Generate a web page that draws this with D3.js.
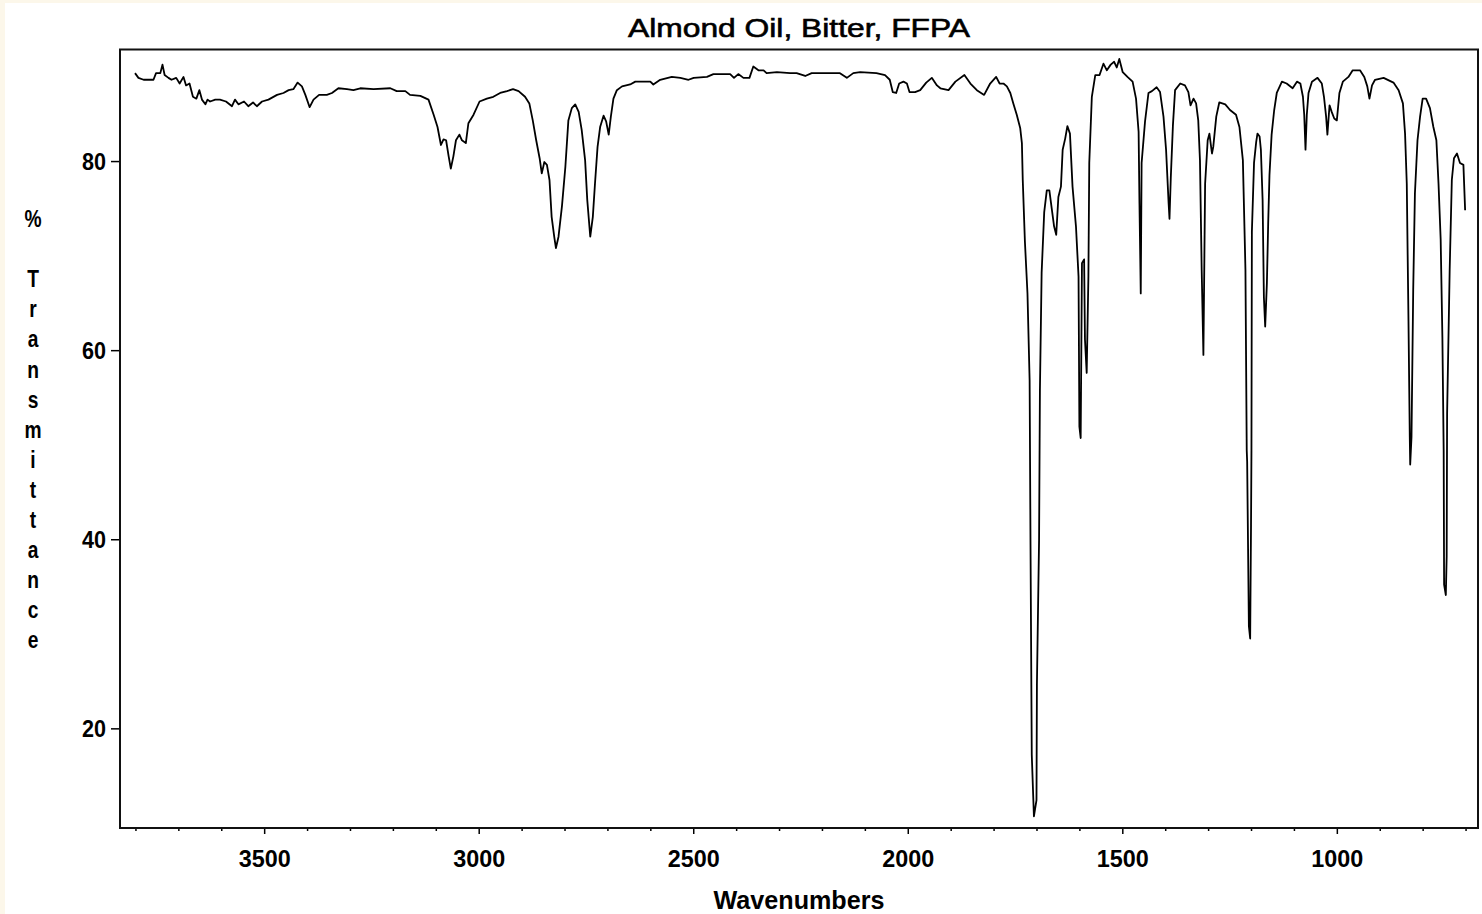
<!DOCTYPE html>
<html>
<head>
<meta charset="utf-8">
<script src="https://cdn.jsdelivr.net/npm/d3@7"></script>
<style>
    body { margin: 0; background: #fcf7ea; }
    svg { display: block; }
</style>
</head>
<body>
<div id="container"><svg></svg></div>
<script>
let width = 1482;
let height = 914;
let fontFamily = '"Liberation Sans", Arial, sans-serif';

let title = 'Almond Oil, Bitter, FFPA';
let x_label = 'Wavenumbers';
let y_label = ['%', '', 'T', 'r', 'a', 'n', 's', 'm', 'i', 't', 't', 'a', 'n', 'c', 'e'];

let x_ticks = [3500, 3000, 2500, 2000, 1500, 1000];
let y_ticks = [20, 40, 60, 80];

// spectrum: wavenumber (cm-1) and % transmittance
let wavenumber = [
    3801, 3793, 3781, 3758, 3752, 3742, 3737, 3732, 3723, 3716, 3705, 3697, 3688, 3682, 3674, 3666,
    3658, 3651, 3645, 3637, 3632, 3626, 3614, 3603, 3589, 3575, 3568, 3560, 3547, 3537, 3526, 3517,
    3505, 3490, 3470, 3455, 3443, 3432, 3422, 3412, 3404, 3394, 3385, 3372, 3354, 3342, 3327, 3307,
    3292, 3276, 3245, 3206, 3191, 3171, 3160, 3136, 3117, 3105, 3096, 3088, 3082, 3076, 3070, 3065,
    3059, 3053, 3045, 3039, 3030, 3024, 3012, 2998, 2981, 2966, 2950, 2934, 2920, 2907, 2892, 2882,
    2874, 2866, 2858, 2853, 2847, 2841, 2835, 2830, 2824, 2820, 2814, 2806, 2798, 2791, 2783, 2775,
    2767, 2760, 2752, 2747, 2740, 2734, 2729, 2723, 2717, 2709, 2703, 2697, 2692, 2686, 2678, 2666,
    2647, 2635, 2600, 2593, 2577, 2550, 2530, 2511, 2499, 2468, 2453, 2414, 2405, 2395, 2383, 2369,
    2360, 2348, 2336, 2329, 2305, 2274, 2259, 2239, 2224, 2158, 2142, 2127, 2111, 2073, 2053, 2042,
    2035, 2027, 2020, 2010, 2002, 1996, 1983, 1971, 1957, 1944, 1932, 1924, 1905, 1889, 1868, 1854,
    1839, 1822, 1808, 1794, 1786, 1777, 1769, 1761, 1754, 1746, 1738, 1734, 1732, 1727, 1721, 1716,
    1714, 1711, 1706, 1700, 1699, 1694, 1692, 1688, 1682, 1676, 1670, 1664, 1659, 1654, 1649, 1643,
    1639, 1633, 1628, 1622, 1616, 1608, 1602, 1600, 1597, 1594, 1589, 1587, 1583, 1579, 1577, 1571,
    1563, 1553, 1544, 1536, 1527, 1519, 1513, 1507, 1499, 1488, 1476, 1468, 1462, 1460, 1457, 1455,
    1447, 1439, 1431, 1420, 1412, 1404, 1398, 1392, 1390, 1387, 1382, 1377, 1365, 1354, 1346, 1341,
    1334, 1328, 1323, 1319, 1315, 1311, 1307, 1301, 1297, 1291, 1288, 1281, 1274, 1260, 1249, 1235,
    1227, 1219, 1213, 1210, 1209, 1205, 1202, 1200, 1199, 1198, 1193, 1188, 1185, 1180, 1177, 1173,
    1170, 1167, 1163, 1160, 1157, 1152, 1146, 1140, 1128, 1117, 1103, 1093, 1085, 1079, 1076, 1073,
    1070, 1066, 1058, 1045, 1035, 1030, 1025, 1022, 1017, 1012, 1006, 1000, 994, 986, 973, 963,
    946, 936, 929, 924, 918, 911, 891, 868, 856, 846, 841, 837, 833, 830, 829, 826,
    822, 818, 812, 806, 800, 792, 783, 775, 768, 763, 758, 754, 751, 750, 746, 744,
    743, 737, 732, 727, 720, 713, 705, 701
];
let transmittance = [
    89.3, 88.8, 88.6, 88.6, 89.3, 89.3, 90.2, 89.1, 88.8, 88.6, 88.8, 88.2, 88.9, 88.0, 88.2, 86.8,
    86.6, 87.5, 86.5, 86.0, 86.5, 86.3, 86.5, 86.5, 86.3, 85.8, 86.5, 86.0, 86.3, 85.8, 86.2, 85.8,
    86.3, 86.5, 87.0, 87.2, 87.5, 87.6, 88.3, 87.9, 87.0, 85.7, 86.5, 87.0, 87.0, 87.2, 87.7, 87.6,
    87.5, 87.7, 87.6, 87.7, 87.4, 87.4, 87.0, 86.9, 86.5, 84.9, 83.6, 81.7, 82.3, 82.2, 80.5, 79.2,
    80.5, 82.2, 82.8, 82.2, 81.9, 84.0, 84.9, 86.3, 86.6, 86.8, 87.2, 87.4, 87.6, 87.4, 86.8, 86.1,
    84.3, 82.2, 80.3, 78.7, 79.9, 79.6, 78.0, 74.1, 72.0, 70.8, 72.0, 75.2, 79.4, 84.3, 85.6, 86.0,
    85.2, 83.3, 80.1, 75.9, 72.0, 74.1, 77.6, 81.5, 83.6, 84.8, 84.2, 82.8, 84.7, 86.6, 87.5, 87.9,
    88.1, 88.4, 88.4, 88.1, 88.6, 88.9, 88.8, 88.6, 88.8, 88.9, 89.2, 89.2, 88.8, 89.2, 88.8, 88.8,
    90.0, 89.6, 89.6, 89.3, 89.4, 89.3, 89.3, 89.0, 89.3, 89.3, 88.8, 89.3, 89.4, 89.3, 89.1, 88.6,
    87.3, 87.2, 88.2, 88.4, 88.2, 87.3, 87.3, 87.5, 88.3, 88.8, 88.0, 87.7, 87.5, 88.4, 89.1, 88.2,
    87.5, 87.0, 88.2, 88.9, 88.2, 88.2, 87.9, 87.2, 86.1, 84.9, 83.5, 81.9, 78.0, 71.5, 66.0, 56.8,
    39.9, 17.2, 10.7, 12.4, 24.6, 39.9, 55.8, 68.2, 74.6, 76.9, 76.9, 74.8, 73.1, 72.2, 76.2, 77.3,
    81.2, 82.4, 83.7, 82.9, 77.3, 73.1, 67.8, 51.9, 50.7, 69.2, 69.6, 61.1, 57.6, 67.8, 79.8, 86.8,
    89.1, 89.1, 90.3, 89.6, 90.2, 90.5, 89.9, 90.8, 89.4, 88.9, 88.4, 86.6, 83.1, 75.5, 66.0, 79.8,
    84.2, 87.2, 87.4, 87.8, 87.3, 84.7, 81.2, 75.5, 73.9, 78.2, 83.8, 87.5, 88.2, 88.0, 87.3, 85.9,
    86.6, 86.1, 84.3, 80.1, 68.5, 59.5, 77.6, 82.2, 82.9, 80.8, 81.5, 84.7, 86.2, 86.0, 85.4, 84.9,
    83.6, 80.1, 68.5, 49.4, 48.2, 30.8, 29.5, 41.5, 49.4, 72.5, 79.8, 82.0, 82.9, 82.6, 81.2, 75.9,
    65.6, 62.5, 67.1, 73.4, 78.5, 82.8, 85.4, 87.2, 88.4, 88.2, 87.7, 88.4, 88.2, 86.8, 84.9, 81.2,
    84.9, 87.2, 88.4, 88.8, 88.2, 86.8, 84.7, 82.8, 85.9, 85.2, 84.5, 84.3, 87.2, 88.4, 88.9, 89.6,
    89.6, 88.9, 87.9, 86.6, 88.0, 88.6, 88.8, 88.3, 87.5, 86.1, 82.9, 77.6, 63.0, 50.8, 47.9, 50.8,
    66.4, 76.6, 82.2, 84.7, 86.6, 86.6, 85.6, 83.6, 82.2, 77.6, 71.7, 61.4, 49.4, 35.2, 34.1, 38.2,
    53.3, 68.5, 78.0, 80.3, 80.8, 79.8, 79.6, 74.8
];

function draw_main() {
    let plot = {'left': 120, 'right': 1478, 'top': 49.5, 'bottom': 828};
    let svg = d3.select('#container')
        .select('svg')
        .attr('width', width)
        .attr('height', height)
        .style('font-family', fontFamily);

    // white page, cream window edge left and top
    svg.append('rect')
        .attr('x', 5).attr('y', 3)
        .attr('width', width - 5).attr('height', height - 3)
        .attr('fill', '#ffffff');

    let x = d3.scaleLinear()
        .domain([3836, 671])
        .range([plot.left, plot.right]);
    let y = d3.scaleLinear()
        .domain([9.46, 91.8])
        .range([plot.bottom, plot.top]);

    // title
    svg.append('text')
        .attr('x', (plot.left + plot.right) / 2)
        .attr('y', 37)
        .attr('text-anchor', 'middle')
        .attr('font-size', 26)
        .attr('textLength', 342)
        .attr('lengthAdjust', 'spacingAndGlyphs')
        .attr('fill', '#000')
        .attr('stroke', '#000')
        .attr('stroke-width', 0.6)
        .text(title);

    // minor x ticks every 100
    let minor = d3.range(700, 3900, 100).filter(d => d % 500 != 0);
    svg.append('g')
        .attr('transform', `translate(0, ${plot.bottom})`)
        .call(d3.axisBottom(x).tickValues(minor).tickSize(3).tickFormat(''))
        .call(g => g.select('.domain').remove())
        .selectAll('line').attr('stroke', '#000').attr('stroke-width', 1.5);

    // x axis
    let gx = svg.append('g')
        .attr('transform', `translate(0, ${plot.bottom})`)
        .call(d3.axisBottom(x).tickValues(x_ticks).tickSize(6).tickFormat(d => d));
    gx.select('.domain').remove();
    gx.selectAll('line').attr('stroke', '#000').attr('stroke-width', 1.5);
    gx.selectAll('text')
        .attr('y', 39)
        .attr('dy', null)
        .attr('fill', '#000')
        .attr('font-family', fontFamily)
        .attr('font-weight', 'bold')
        .attr('font-size', 24)
        .attr('textLength', d => String(d).length * 13)
        .attr('lengthAdjust', 'spacingAndGlyphs');

    // y axis
    let gy = svg.append('g')
        .attr('transform', `translate(${plot.left}, 0)`)
        .call(d3.axisLeft(y).tickValues(y_ticks).tickSize(9).tickPadding(5).tickFormat(d => d));
    gy.select('.domain').remove();
    gy.selectAll('line').attr('stroke', '#000').attr('stroke-width', 1.5);
    gy.selectAll('text')
        .attr('dy', '0.36em')
        .attr('fill', '#000')
        .attr('font-family', fontFamily)
        .attr('font-weight', 'bold')
        .attr('font-size', 24)
        .attr('textLength', d => String(d).length * 12)
        .attr('lengthAdjust', 'spacingAndGlyphs');

    // frame
    svg.append('rect')
        .attr('x', plot.left)
        .attr('y', plot.top)
        .attr('width', plot.right - plot.left)
        .attr('height', plot.bottom - plot.top)
        .attr('fill', 'none')
        .attr('stroke', '#111')
        .attr('stroke-width', 2);

    // x label
    svg.append('text')
        .attr('x', (plot.left + plot.right) / 2)
        .attr('y', 908.5)
        .attr('text-anchor', 'middle')
        .attr('font-weight', 'bold')
        .attr('font-size', 25)
        .attr('textLength', 171)
        .attr('lengthAdjust', 'spacingAndGlyphs')
        .attr('fill', '#000')
        .text(x_label);

    // y label, one character per line
    svg.append('g')
        .selectAll('text')
        .data(y_label)
        .enter().append('text')
        .attr('transform', (d, i) => `translate(33, ${227 + i * 30.1}) scale(0.8, 1)`)
        .attr('text-anchor', 'middle')
        .attr('font-weight', 'bold')
        .attr('font-size', 24)
        .attr('fill', '#000')
        .text(d => d);

    // spectrum
    let data = wavenumber.map((w, i) => ({'wn': w, 't': transmittance[i]}));
    let line = d3.line()
        .x(d => x(d.wn))
        .y(d => y(d.t));
    svg.append('path')
        .datum(data)
        .attr('d', line)
        .attr('fill', 'none')
        .attr('stroke', '#000')
        .attr('stroke-width', 1.8)
        .attr('stroke-linejoin', 'round');
}

draw_main();
</script>
</body>
</html>
